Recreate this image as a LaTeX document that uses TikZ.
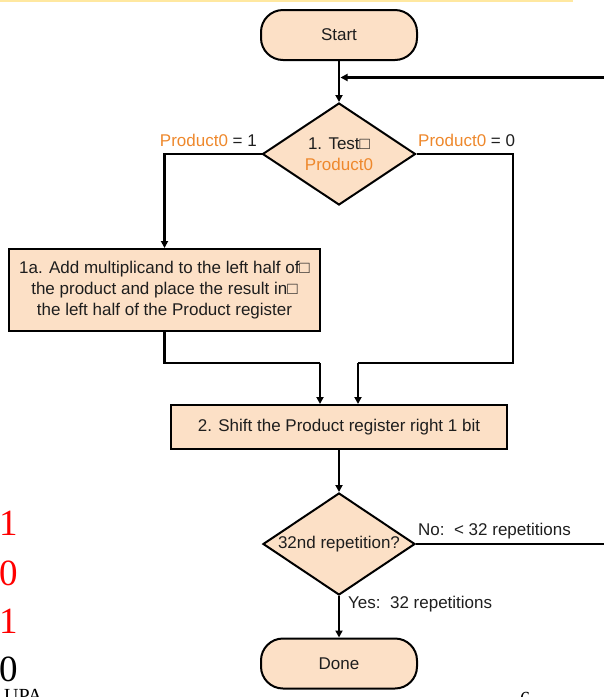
\documentclass[tikz,border=0pt]{standalone}
\usepackage{fontspec}
\setmainfont{Liberation Sans}
\newfontfamily\slideserif{Liberation Serif}
\usetikzlibrary{arrows.meta,shapes.geometric}
\definecolor{peach}{RGB}{252,224,198}
\definecolor{labelorange}{RGB}{238,136,44}
\definecolor{slidered}{RGB}{255,0,0}
\definecolor{ruleyellow}{RGB}{255,232,160}
\definecolor{ink}{RGB}{30,30,30}

\begin{document}
\begin{tikzpicture}[x=1pt,y=-1pt,
  every node/.style={font=\fontsize{17}{21}\selectfont, text=ink},
  shapeline/.style={draw=black, line width=2pt, fill=peach},
  terminal/.style={shapeline, rounded corners=22pt, minimum width=156pt,
    minimum height=50pt, inner sep=0pt},
  process/.style={shapeline, inner sep=0pt, align=center},
  decision/.style={shapeline, diamond, aspect=1.5, inner sep=0pt,
    minimum width=153pt, minimum height=102pt, align=center},
  flow/.style={line width=2.2pt, -{Triangle[length=7pt,width=7pt]}},
  link/.style={line width=2.2pt},
  lbl/.style={inner sep=0pt},
  bignum/.style={inner sep=0pt, anchor=base west,
    font=\slideserif\fontsize{37}{37}\selectfont},
  footer/.style={inner sep=0pt, anchor=base west,
    font=\slideserif\fontsize{20}{20}\selectfont, text=black},
]
\useasboundingbox (0,0) rectangle (604,697);
\clip (0,0) rectangle (604,697);

% slide header rule
\draw[ruleyellow, line width=2pt] (0,0.8) -- (573,0.8);

% flowchart nodes
\node[terminal] (start) at (339,35) {Start};
\node[decision] (d1) at (339,154)
  {1. Test□\\{\color{labelorange}Product0}};
\node[process, minimum width=311pt, minimum height=82pt] (add) at (164.5,290)
  {1a. Add multiplicand to the left half of□\\
   the product and place the result in□\\
   the left half of the Product register};
\node[process, minimum width=336pt, minimum height=44pt] (shift) at (339,427)
  {2. Shift the Product register right 1 bit};
\node[decision, minimum width=152pt] (d2) at (339,544) {32nd repetition?};
\node[terminal] (done) at (339,663.5) {Done};

% branch labels
\node[lbl, anchor=east] (l1) at (257,140)
  {{\color{labelorange}Product0} = 1};
\node[lbl, anchor=west] (l0) at (418,140)
  {{\color{labelorange}Product0} = 0};
\node[lbl, anchor=west] (lno) at (418,531) {No:\ \ < 32 repetitions};
\node[lbl, anchor=west] (lyes) at (348,604) {Yes:\ \ 32 repetitions};

% routing points
\coordinate (loopx) at (612,0);
\coordinate (loopin) at (340.5,77.5);
\coordinate (jl) at (320,363);
\coordinate (jr) at (358,363);
\coordinate (rx) at (513,363);

% connectors
\draw[flow] (start.south) -- (d1.north);
\draw[flow] (d2.east) -- (d2.east -| loopx) -- (loopx |- loopin) -- (loopin);
\draw[flow] (d1.west) -| (add.north);
\draw[link] (d1.east) -| (rx) -- (jr);
\draw[flow] (jr) -- (jr |- shift.north);
\draw[link] (add.south) |- (jl);
\draw[flow] (jl) -- (jl |- shift.north);
\draw[flow] (shift.south) -- (d2.north);
\draw[flow] (d2.south) -- (done.north);

% slide margin content
\node[bignum, text=slidered] (b1) at (-1,535) {1};
\node[bignum, text=slidered] (b2) at (-1,585) {0};
\node[bignum, text=slidered] (b3) at (-1,633) {1};
\node[bignum, text=black] (b4) at (-1,681) {0};
\node[footer] (org) at (4,702) {UPA};
\node[footer] (page) at (520,705) {6};
\end{tikzpicture}
\end{document}
